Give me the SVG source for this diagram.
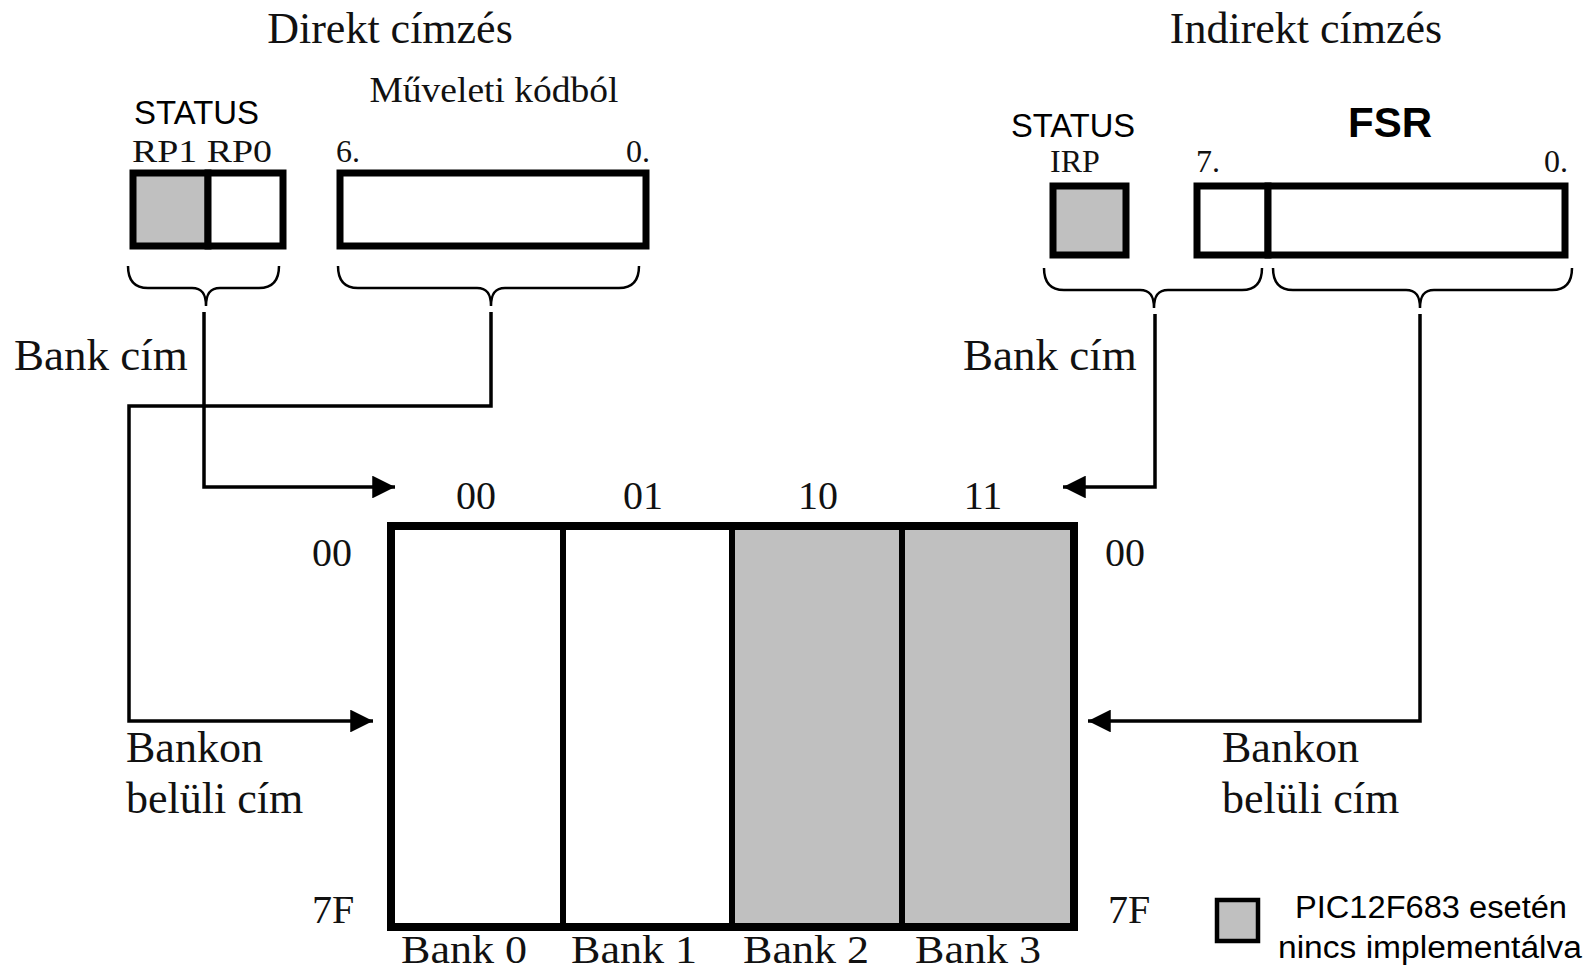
<svg xmlns="http://www.w3.org/2000/svg" width="1590" height="970" viewBox="0 0 1590 970">
  <defs>
    <style>
      .serif { font-family: "Liberation Serif", "Times New Roman", serif; fill: #111; }
      .sans { font-family: "Liberation Sans", Arial, sans-serif; fill: #000; }
      .box { stroke: #000; stroke-width: 7; }
      .gray { fill: #c0c0c0; }
      .white { fill: #fff; }
      .brace { fill: none; stroke: #000; stroke-width: 2.5; }
      .wire { fill: none; stroke: #000; stroke-width: 3.5; stroke-linejoin: miter; }
    </style>
    <marker id="arrow" viewBox="0 0 10 10" refX="10" refY="5" markerWidth="6.5" markerHeight="6.5" markerUnits="strokeWidth" orient="auto">
      <path d="M0,0 L10,5 L0,10 Z" fill="#000"/>
    </marker>
  </defs>

  <rect width="1590" height="970" fill="#fff"/>

  <!-- section headings -->
  <text class="serif" x="390" y="43" font-size="44" text-anchor="middle">Direkt címzés</text>
  <text class="serif" x="1306" y="43" font-size="44" text-anchor="middle">Indirekt címzés</text>

  <!-- direct addressing: STATUS RP1/RP0 -->
  <g id="status-direct">
    <text class="sans" x="134" y="124" font-size="34" textLength="125" lengthAdjust="spacingAndGlyphs">STATUS</text>
    <text class="serif" x="132" y="162" font-size="32" textLength="140" lengthAdjust="spacingAndGlyphs">RP1 RP0</text>
    <rect class="box gray" x="133" y="173" width="75" height="73"/>
    <rect class="box white" x="208" y="173" width="75" height="73"/>
  </g>

  <!-- direct addressing: opcode bits -->
  <g id="opcode">
    <text class="serif" x="494" y="102" font-size="36" text-anchor="middle" textLength="249" lengthAdjust="spacingAndGlyphs">Műveleti kódból</text>
    <text class="serif" x="336" y="162" font-size="32">6.</text>
    <text class="serif" x="650" y="162" font-size="32" text-anchor="end">0.</text>
    <rect class="box white" x="340" y="173" width="306" height="73"/>
  </g>

  <!-- indirect addressing: STATUS IRP -->
  <g id="status-indirect">
    <text class="sans" x="1011" y="137" font-size="34" textLength="124" lengthAdjust="spacingAndGlyphs">STATUS</text>
    <text class="serif" x="1050" y="172" font-size="32">IRP</text>
    <rect class="box gray" x="1053" y="186" width="73" height="69"/>
  </g>

  <!-- indirect addressing: FSR -->
  <g id="fsr">
    <text class="sans" x="1390" y="137" font-size="42" font-weight="bold" text-anchor="middle">FSR</text>
    <text class="serif" x="1196" y="172" font-size="32">7.</text>
    <text class="serif" x="1568" y="172" font-size="32" text-anchor="end">0.</text>
    <rect class="box white" x="1197" y="186" width="71" height="69"/>
    <rect class="box white" x="1268" y="186" width="297" height="69"/>
  </g>

  <!-- braces -->
  <g id="braces">
    <path class="brace" d="M128,266 C128,280 134,288 148,288 L192,288 C202,288 206,294 206,306 C206,294 210,288 220,288 L259,288 C273,288 279,280 279,266"/>
    <path class="brace" d="M338,266 C338,280 344,288 358,288 L477,288 C487,288 491,294 491,306 C491,294 495,288 505,288 L619,288 C633,288 639,280 639,266"/>
    <path class="brace" d="M1044,268 C1044,282 1050,290 1064,290 L1140,290 C1150,290 1154,296 1154,308 C1154,296 1158,290 1168,290 L1242,290 C1256,290 1262,282 1262,268"/>
    <path class="brace" d="M1273,268 C1273,282 1279,290 1293,290 L1406,290 C1416,290 1420,296 1420,308 C1420,296 1424,290 1434,290 L1552,290 C1566,290 1572,282 1572,268"/>
  </g>

  <!-- address labels -->
  <text class="serif" x="14" y="370" font-size="45">Bank cím</text>
  <text class="serif" x="963" y="370" font-size="45">Bank cím</text>
  <text class="serif" x="126" y="762" font-size="44">Bankon</text>
  <text class="serif" x="126" y="813" font-size="44">belüli cím</text>
  <text class="serif" x="1222" y="762" font-size="44">Bankon</text>
  <text class="serif" x="1222" y="813" font-size="44">belüli cím</text>

  <!-- connectors -->
  <g id="connectors">
    <path class="wire" d="M204,312 L204,487 L395,487" marker-end="url(#arrow)"/>
    <path class="wire" d="M491,312 L491,406 L129,406 L129,721 L373,721" marker-end="url(#arrow)"/>
    <path class="wire" d="M1155,314 L1155,487 L1063,487" marker-end="url(#arrow)"/>
    <path class="wire" d="M1420,314 L1420,721 L1088,721" marker-end="url(#arrow)"/>
  </g>

  <!-- bank column labels -->
  <g class="serif" font-size="40" text-anchor="middle">
    <text x="476" y="509">00</text>
    <text x="643" y="509">01</text>
    <text x="818" y="509">10</text>
    <text x="983" y="509">11</text>
  </g>

  <!-- row address labels -->
  <g class="serif" font-size="40">
    <text x="312" y="566">00</text>
    <text x="312" y="923">7F</text>
    <text x="1105" y="566">00</text>
    <text x="1108" y="923">7F</text>
  </g>

  <!-- register file banks -->
  <g id="banks">
    <rect class="gray" x="732" y="526" width="342" height="401"/>
    <rect fill="none" stroke="#000" stroke-width="8" x="391" y="526" width="683" height="401"/>
    <line x1="563" y1="526" x2="563" y2="927" stroke="#000" stroke-width="6"/>
    <line x1="732" y1="526" x2="732" y2="927" stroke="#000" stroke-width="6"/>
    <line x1="902" y1="526" x2="902" y2="927" stroke="#000" stroke-width="6"/>
  </g>

  <!-- bank names -->
  <g class="serif" font-size="41" text-anchor="middle">
    <text x="464" y="963" textLength="126" lengthAdjust="spacingAndGlyphs">Bank 0</text>
    <text x="634" y="963" textLength="126" lengthAdjust="spacingAndGlyphs">Bank 1</text>
    <text x="806" y="963" textLength="126" lengthAdjust="spacingAndGlyphs">Bank 2</text>
    <text x="978" y="963" textLength="126" lengthAdjust="spacingAndGlyphs">Bank 3</text>
  </g>

  <!-- legend -->
  <g id="legend">
    <rect class="gray" x="1217" y="900" width="41" height="41" stroke="#000" stroke-width="4.5"/>
    <text class="sans" x="1431" y="918" font-size="31" text-anchor="middle" textLength="272" lengthAdjust="spacingAndGlyphs">PIC12F683 esetén</text>
    <text class="sans" x="1430" y="958" font-size="31" text-anchor="middle" textLength="304" lengthAdjust="spacingAndGlyphs">nincs implementálva</text>
  </g>
</svg>
